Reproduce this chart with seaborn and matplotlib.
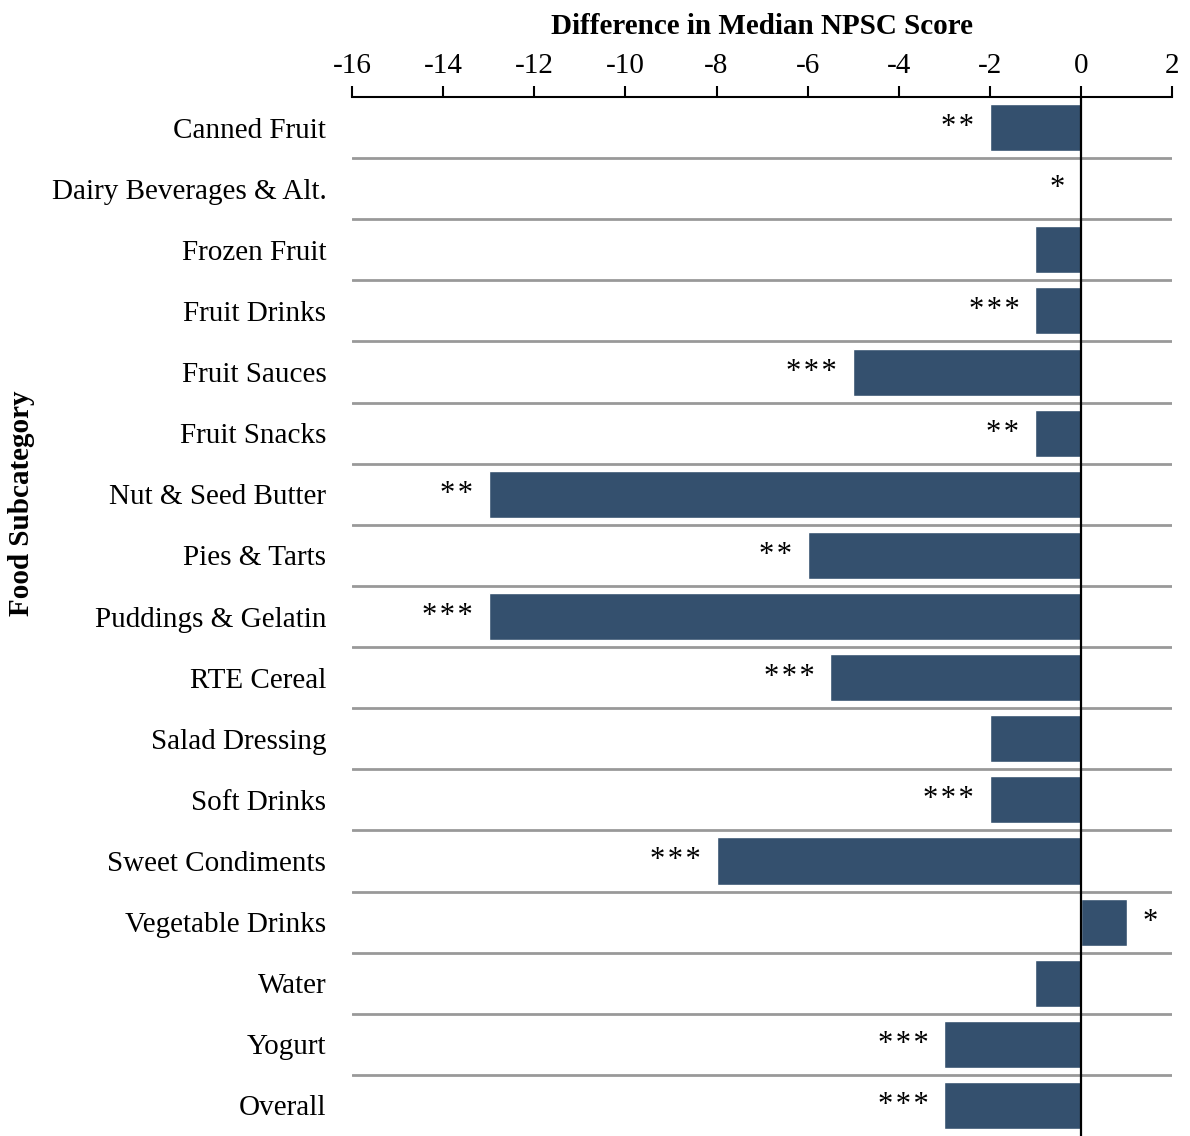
import seaborn as sns
import pandas as pd
import matplotlib.pyplot as plt

categories = ["Canned Fruit", "Dairy Beverages & Alt.", "Frozen Fruit", "Fruit Drinks",
              "Fruit Sauces", "Fruit Snacks", "Nut & Seed Butter", "Pies & Tarts",
              "Puddings & Gelatin", "RTE Cereal", "Salad Dressing", "Soft Drinks",
              "Sweet Condiments", "Vegetable Drinks", "Water", "Yogurt", "Overall"]
diffs = [-2, 0, -1, -1, -5, -1, -13, -6, -13, -5.5, -2, -2, -8, 1, -1, -3, -3]
stars = ["**", "*", "", "***", "***", "**", "**", "**", "***", "***", "", "***",
         "***", "*", "", "***", "***"]

df = pd.DataFrame({"cat": categories, "diff": diffs, "sig": stars})

sns.set_style("white")
plt.rcParams['font.family'] = ['Liberation Serif', 'DejaVu Serif']
plt.rcParams['axes.unicode_minus'] = False
plt.rcParams['text.color'] = 'black'
plt.rcParams['xtick.color'] = 'black'
plt.rcParams['ytick.color'] = 'black'
plt.rcParams['axes.labelcolor'] = 'black'

fig = plt.figure(figsize=(11.9, 11.36), dpi=100)
ax = fig.add_axes([0.2958, 0.0, 0.6892, 0.9146])

sns.barplot(data=df, y="cat", x="diff", orient="h", color="#34506E",
            width=0.77, saturation=1, ax=ax)

ax.set_xlim(-16, 2)
ax.set_ylim(len(categories) - 0.5, -0.5)
ax.set_xticks(range(-16, 3, 2))
ax.xaxis.tick_top()
ax.xaxis.set_label_position("top")
ax.tick_params(axis="x", which="both", top=True, direction="out", length=8,
               width=1.5, labelsize=21, pad=5, color="black")
ax.tick_params(axis="y", left=False, labelsize=21, pad=15)

for s in ["right", "bottom", "left"]:
    ax.spines[s].set_visible(False)
ax.spines["top"].set_color("black")
ax.spines["top"].set_linewidth(1.5)

# separators between rows
for i in range(1, len(categories)):
    ax.axhline(i - 0.5, color="#999999", lw=2, zorder=0)
ax.axvline(0, color="black", lw=1.6, zorder=3)

# significance stars, spaced a little like the original
for i, (v, s) in enumerate(zip(diffs, stars)):
    if not s:
        continue
    label = "\u200a".join(s)
    if v > 0:
        ax.annotate(label, (v, i), xytext=(16, 0), textcoords="offset pixels",
                    ha="left", va="center", fontsize=22)
    else:
        ax.annotate(label, (v, i), xytext=(-16, 0), textcoords="offset pixels",
                    ha="right", va="center", fontsize=22)

ax.set_xlabel("Difference in Median NPSC Score", fontsize=21, fontweight="bold",
              labelpad=14)
ax.set_ylabel("")
fig.text(22 / 1190, 1 - 503 / 1136, "Food Subcategory", rotation=90,
         ha="center", va="center", fontsize=21, fontweight="bold")

plt.savefig("out.png", dpi=100)
